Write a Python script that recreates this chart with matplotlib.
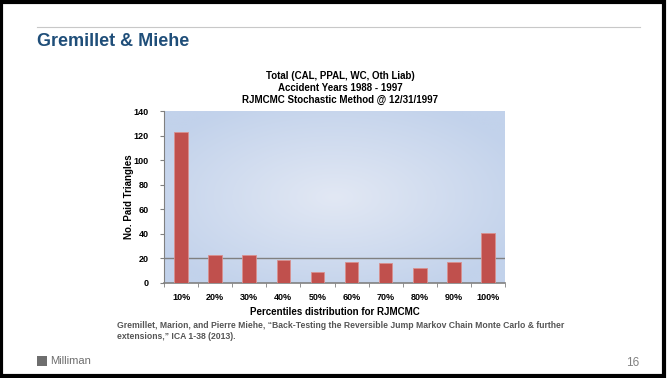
import numpy as np
import matplotlib.pyplot as plt
from matplotlib.patches import Rectangle

percentiles = ['10%', '20%', '30%', '40%', '50%', '60%', '70%', '80%', '90%', '100%']
paid_triangles = [123, 23, 23, 19, 9, 17, 16, 12, 17, 41]
y_ticks = [0, 20, 40, 60, 80, 100, 120, 140]

chart_title = 'Total (CAL, PPAL, WC, Oth Liab)\nAccident Years 1988 - 1997\nRJMCMC Stochastic Method @ 12/31/1997'


def main():
  plt.rcParams['font.family'] = ['Liberation Sans', 'DejaVu Sans']
  fig = plt.figure(figsize=(6.68, 3.78), dpi=100)
  fig.patch.set_facecolor('white')

  # slide frame and header
  fig.patches.append(Rectangle((0.002, 0.004), 0.992, 0.992, transform=fig.transFigure,
                               fill=False, edgecolor='black', linewidth=3))
  fig.add_artist(plt.Line2D([37/668, 640/668], [1 - 27/378, 1 - 27/378],
                            color='#c8c8c8', linewidth=0.8, transform=fig.transFigure))
  fig.text(37/668, 1 - 42/378, 'Gremillet & Miehe', fontsize=13, fontweight='bold',
           color='#1f4e79', va='center', ha='left')

  ax = fig.add_axes([164/668, 1 - 283/378, (505 - 164)/668, (283 - 111)/378])

  # radial gradient plot background
  yy, xx = np.mgrid[-1:1:200j, -1:1:300j]
  r = np.clip(np.sqrt(xx**2 + yy**2) / 1.2, 0, 1)
  c0 = np.array([0xe2, 0xe8, 0xf4]) / 255.
  c1 = np.array([0xc2, 0xd2, 0xeb]) / 255.
  img = c0[None, None, :] * (1 - r[..., None]) + c1[None, None, :] * r[..., None]
  x = np.arange(len(percentiles))
  ax.imshow(img, extent=[-0.5, len(percentiles) - 0.5, 0, 140], aspect='auto', zorder=0)

  ax.bar(x, paid_triangles, width=0.4, color='#c0504d', edgecolor='#d9908e',
         linewidth=0.6, zorder=3)
  ax.axhline(20, color='#808080', linewidth=1, zorder=2)

  ax.set_xlim(-0.5, len(percentiles) - 0.5)
  ax.set_ylim(0, 140)
  ax.set_yticks(y_ticks)
  ax.set_yticklabels([str(v) for v in y_ticks], fontsize=6.5, fontweight='heavy')
  ax.set_xticks(x)
  ax.set_xticklabels(percentiles, fontsize=6.5, fontweight='heavy')
  ax.set_xticks(np.arange(len(percentiles) + 1) - 0.5, minor=True)
  ax.tick_params(axis='x', which='major', length=0, pad=7)
  ax.tick_params(axis='x', which='minor', length=3, color='#808080')
  ax.tick_params(axis='y', length=3, color='#808080', pad=8)
  for s in ['top', 'right']:
    ax.spines[s].set_visible(False)
  ax.spines['left'].set_color('#808080')
  ax.spines['bottom'].set_color('#808080')
  ax.spines['bottom'].set_linewidth(1.2)

  ax.set_ylabel('No. Paid Triangles', fontsize=7, fontweight='heavy', labelpad=0)
  ax.set_xlabel('Percentiles distribution for RJMCMC', fontsize=7, fontweight='heavy', labelpad=4)
  fig.text(340/668, 1 - 88/378, chart_title, fontsize=7, fontweight='heavy',
           ha='center', va='center', linespacing=1.25)

  # footnote, logo and page number
  fig.text(117/668, 1 - 331/378,
           'Gremillet, Marion, and Pierre Miehe, \u201cBack-Testing the Reversible Jump Markov Chain Monte Carlo & further\n'
           'extensions,\u201d ICA 1-38 (2013).',
           fontsize=6.2, fontweight='bold', color='#555555', va='center', ha='left', linespacing=1.3)
  fig.patches.append(Rectangle((37/668, 1 - 366/378), 10/668, 10/378, transform=fig.transFigure,
                               facecolor='#6e6e6e', edgecolor='none'))
  fig.text(50/668, 1 - 361/378, 'Milliman', fontsize=8, color='#6e6e6e', va='center', ha='left')
  fig.text(639/668, 1 - 363/378, '16', fontsize=8.5, color='#808080', va='center', ha='right')

  fig.savefig('out.png', dpi=100)

if __name__=="__main__":
  main()
